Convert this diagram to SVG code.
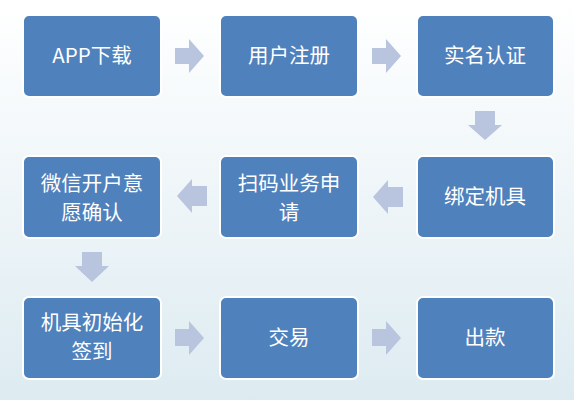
<svg xmlns="http://www.w3.org/2000/svg" width="574" height="400" viewBox="0 0 574 400">
<defs>
<linearGradient id="bg" x1="0" y1="0" x2="0" y2="1">
<stop offset="0" stop-color="#FFFFFF"/>
<stop offset="1" stop-color="#DDEBF1"/>
</linearGradient>
</defs>
<style>
.box{fill:#4F81BD;stroke:#FFFFFF;stroke-width:2}
.t{fill:#FFFFFF;font-family:"Noto Sans CJK SC","Noto Sans",sans-serif;font-size:20.5px;text-anchor:middle}
.arr{fill:#B9C4DE}
</style>
<rect x="0" y="0" width="574" height="400" fill="url(#bg)"/>
<g id="connectors">
<polygon class="arr" points="175,48 189,48 189,39 204,56 189,73 189,64 175,64"/>
<polygon class="arr" points="372,48 386,48 386,39 401,56 386,73 386,64 372,64"/>
<polygon class="arr" points="475,111 495,111 495,125 502,125 485,140 468,125 475,125"/>
<polygon class="arr" points="403,187 388,187 388,180 373,197 388,214 388,207 403,207"/>
<polygon class="arr" points="207,186 192,186 192,179 177,196 192,213 192,206 207,206"/>
<polygon class="arr" points="82,252 102,252 102,266 109,266 92,282 75,266 82,266"/>
<polygon class="arr" points="175,329 189,329 189,321 204,338 189,355 189,346 175,346"/>
<polygon class="arr" points="372,329 386,329 386,321 401,338 386,355 386,346 372,346"/>
</g>
<g id="n1"><rect class="box" x="23" y="15" width="138" height="82" rx="6"/><text class="t" x="92" y="63">APP下载</text></g>
<g id="n2"><rect class="box" x="220" y="15" width="138" height="82" rx="6"/><text class="t" x="289" y="63">用户注册</text></g>
<g id="n3"><rect class="box" x="417" y="15" width="137" height="82" rx="6"/><text class="t" x="485" y="63">实名认证</text></g>
<g id="n4"><rect class="box" x="417" y="156" width="137" height="82" rx="6"/><text class="t" x="485" y="204">绑定机具</text></g>
<g id="n5"><rect class="box" x="220" y="156" width="138" height="82" rx="6"/><text class="t" x="289" y="191">扫码业务申</text><text class="t" x="289" y="220">请</text></g>
<g id="n6"><rect class="box" x="23" y="156" width="138" height="82" rx="6"/><text class="t" x="92" y="191">微信开户意</text><text class="t" x="92" y="220">愿确认</text></g>
<g id="n7"><rect class="box" x="23" y="297" width="138" height="82" rx="6"/><text class="t" x="92" y="330">机具初始化</text><text class="t" x="92" y="359">签到</text></g>
<g id="n8"><rect class="box" x="220" y="297" width="138" height="82" rx="6"/><text class="t" x="289" y="345">交易</text></g>
<g id="n9"><rect class="box" x="417" y="297" width="137" height="82" rx="6"/><text class="t" x="485" y="345">出款</text></g>
</svg>
